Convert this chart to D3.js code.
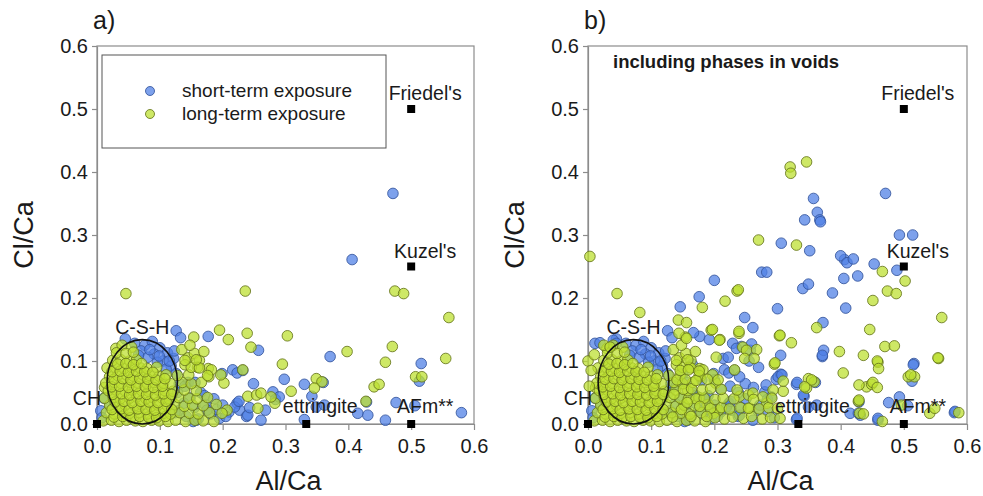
<!DOCTYPE html>
<html>
<head>
<script src="https://d3js.org/d3.v7.min.js"></script>
<style>
  body { margin: 0; background: #fff; }
  text { font-family: "Liberation Sans", Arial, sans-serif; fill: #1a1a1a; }
</style>
</head>
<body>
<svg id="chart" width="983" height="496"></svg>
<script>
// ---- data (Al/Ca, Cl/Ca) ----
var ticks = [0, 0.1, 0.2, 0.3, 0.4, 0.5, 0.6];

var phaseNames = ["CH", "ettringite", "AFm**", "Kuzel's", "Friedel's"];
var phaseAl = [0, 0.333, 0.5, 0.5, 0.5];
var phaseCl = [0, 0, 0, 0.25, 0.5];

// short-term exposure, matrix
var shortA = [
  [0.471,0.366],[0.406,0.261],[0.126,0.148],[0.133,0.137],[0.177,0.139],[0.257,0.117],[0.371,0.107],
  [0.516,0.096],[0.513,0.068],[0.298,0.071],[0.330,0.063],[0.360,0.066],[0.342,0.044],[0.431,0.014],
  [0.415,0.017],[0.459,0.006],[0.476,0.034],[0.506,0.029],[0.580,0.018],[0.330,0.007],[0.249,0.064],
  [0.280,0.051],[0.284,0.039],[0.268,0.022],[0.261,0.006],[0.216,0.086],[0.223,0.081],[0.199,0.080],
  [0.232,0.085],[0.223,0.033],[0.227,0.022],[0.238,0.012],[0.195,0.009],[0.158,0.006],[0.153,0.004],
  [0.349,0.027],[0.362,0.030],[0.290,0.043],[0.429,0.035],[0.145,0.066],[0.240,0.014],
  [0.045,0.135],[0.060,0.128],[0.076,0.125],[0.088,0.131],[0.100,0.121],[0.112,0.113],[0.122,0.104],
  [0.091,0.111],[0.105,0.100],[0.118,0.092],[0.126,0.080],[0.070,0.116],[0.081,0.106],[0.096,0.098],
  [0.110,0.087],[0.131,0.064],[0.128,0.050],[0.130,0.021],[0.142,0.012],[0.155,0.026],[0.161,0.008],
  [0.172,0.031],[0.181,0.016],[0.190,0.023],[0.200,0.030],[0.210,0.019],[0.219,0.027],[0.226,0.036],
  [0.148,0.041],[0.165,0.050],[0.140,0.060],[0.156,0.066],[0.171,0.045],[0.186,0.040],[0.243,0.026],
  [0.006,0.021],[0.011,0.041],[0.021,0.030],[0.008,0.010],[0.175,0.022],[0.205,0.012],[0.138,0.033],
  [0.118,0.040],[0.124,0.018],[0.066,0.109],[0.084,0.118],[0.099,0.108],[0.115,0.100],[0.123,0.116]
];

// long-term exposure, matrix
var longA = [
  [0.046,0.207],[0.236,0.211],[0.474,0.211],[0.488,0.207],[0.560,0.169],[0.195,0.149],[0.209,0.134],
  [0.239,0.144],[0.303,0.140],[0.245,0.122],[0.154,0.138],[0.398,0.115],[0.470,0.123],[0.295,0.095],
  [0.459,0.098],[0.555,0.104],[0.507,0.075],[0.517,0.075],[0.309,0.052],[0.349,0.072],[0.358,0.067],
  [0.346,0.057],[0.441,0.059],[0.449,0.063],[0.428,0.036],[0.240,0.044],[0.254,0.046],[0.283,0.033],
  [0.256,0.025],[0.232,0.086],[0.202,0.065],[0.197,0.078],[0.207,0.022],[0.177,0.088],[0.178,0.075],
  [0.182,0.086],[0.261,0.049],[0.277,0.043],
  [0.135,0.118],[0.145,0.105],[0.155,0.112],[0.163,0.101],[0.140,0.094],[0.160,0.090],[0.170,0.115],[0.148,0.125],
  [0.012,0.058],[0.020,0.075],[0.030,0.120],[0.040,0.125],[0.055,0.122],
  [0.010,0.005],[0.023,0.006],[0.035,0.004],[0.047,0.006],[0.061,0.005],[0.073,0.004],[0.087,0.006],
  [0.099,0.005],[0.113,0.004],[0.125,0.006],[0.141,0.004],[0.156,0.006],[0.169,0.005],[0.186,0.004],
  [0.015,0.018],[0.028,0.016],[0.041,0.018],[0.052,0.017],[0.067,0.018],[0.080,0.016],[0.091,0.018],
  [0.106,0.017],[0.117,0.016],[0.132,0.018],[0.147,0.017],[0.161,0.016],[0.179,0.018],[0.199,0.017],
  [0.020,0.030],[0.034,0.028],[0.045,0.030],[0.060,0.029],[0.071,0.031],[0.086,0.028],[0.097,0.030],
  [0.112,0.029],[0.124,0.031],[0.139,0.028],[0.152,0.030],[0.169,0.029],[0.190,0.031],
  [0.012,0.041],[0.026,0.042],[0.037,0.040],[0.052,0.041],[0.063,0.043],[0.078,0.040],[0.089,0.042],
  [0.104,0.041],[0.115,0.040],[0.130,0.042],[0.146,0.041],[0.159,0.040],[0.176,0.042],
  [0.018,0.053],[0.030,0.054],[0.045,0.052],[0.056,0.054],[0.071,0.053],[0.082,0.052],[0.097,0.054],
  [0.108,0.053],[0.121,0.052],[0.139,0.054],[0.158,0.053],
  [0.014,0.065],[0.028,0.066],[0.039,0.064],[0.054,0.066],[0.065,0.065],[0.080,0.064],[0.091,0.066],
  [0.106,0.065],[0.117,0.064],[0.136,0.066],[0.150,0.064],[0.166,0.066],
  [0.033,0.077],[0.047,0.078],[0.058,0.076],[0.073,0.078],[0.084,0.077],[0.099,0.076],[0.110,0.078],
  [0.128,0.077],[0.146,0.078],[0.176,0.077],
  [0.016,0.089],[0.029,0.090],[0.043,0.088],[0.055,0.090],[0.069,0.089],[0.080,0.088],[0.095,0.090],
  [0.150,0.090],[0.163,0.089],
  [0.025,0.101],[0.038,0.102],[0.052,0.100],[0.063,0.102],
  [0.140,0.101],[0.158,0.102],
  [0.031,0.113],[0.046,0.112],[0.058,0.114],
  // second, denser layer inside the C-S-H ellipse
  [0.027,0.011],[0.041,0.012],[0.054,0.010],[0.068,0.012],[0.082,0.011],[0.095,0.010],[0.109,0.012],
  [0.024,0.023],[0.038,0.024],[0.051,0.022],[0.065,0.024],[0.078,0.023],[0.092,0.022],[0.106,0.024],[0.119,0.023],
  [0.029,0.035],[0.043,0.036],[0.056,0.034],[0.070,0.036],[0.083,0.035],[0.097,0.034],[0.110,0.036],
  [0.025,0.047],[0.039,0.048],[0.052,0.046],[0.066,0.048],[0.079,0.047],[0.093,0.046],[0.106,0.048],[0.119,0.047],
  [0.023,0.059],[0.036,0.060],[0.050,0.058],[0.063,0.060],[0.077,0.059],[0.090,0.058],[0.104,0.060],
  [0.027,0.071],[0.041,0.072],[0.054,0.070],[0.068,0.072],[0.081,0.071],[0.094,0.070],[0.108,0.072],
  [0.024,0.083],[0.037,0.084],[0.050,0.082],[0.063,0.084],[0.076,0.083],[0.089,0.082],
  [0.033,0.095],[0.046,0.096],[0.058,0.094],[0.071,0.096]
];

// extra points in panel b: phases in voids
var shortV = [
  [0.357,0.358],[0.363,0.336],[0.343,0.324],[0.367,0.324],[0.368,0.321],[0.493,0.300],[0.514,0.300],
  [0.306,0.287],[0.351,0.275],[0.400,0.267],[0.410,0.256],[0.420,0.262],[0.453,0.254],[0.489,0.244],
  [0.427,0.235],[0.405,0.231],[0.387,0.208],[0.200,0.228],[0.275,0.241],[0.283,0.241],[0.340,0.215],
  [0.349,0.222],[0.176,0.202],[0.146,0.186],[0.300,0.183],[0.408,0.184],[0.372,0.161],[0.373,0.117],
  [0.371,0.109],[0.305,0.109],[0.305,0.079],[0.331,0.066],[0.515,0.094],[0.493,0.043],[0.581,0.020],
  [0.459,0.009],[0.331,0.009],[0.428,0.017],[0.248,0.169],[0.261,0.153],[0.167,0.145],[0.192,0.134],
  [0.229,0.128],[0.243,0.123],[0.259,0.127],[0.235,0.120],[0.214,0.104],[0.222,0.106],[0.301,0.075],
  [0.307,0.078],[0.282,0.062],[0.341,0.046],[0.011,0.128],[0.019,0.129],[0.040,0.133],[0.045,0.128],
  [0.200,0.070],[0.210,0.055],[0.225,0.060],[0.238,0.050],[0.250,0.040],[0.262,0.058],[0.272,0.030],
  [0.285,0.020],[0.295,0.010],[0.270,0.090],[0.255,0.100],[0.240,0.075],[0.180,0.070],[0.190,0.045],
  [0.165,0.095],[0.150,0.080]
];

var longV = [
  [0.320,0.408],[0.321,0.398],[0.346,0.416],[0.270,0.292],[0.330,0.284],[0.466,0.242],[0.502,0.227],
  [0.238,0.213],[0.217,0.195],[0.181,0.185],[0.082,0.177],[0.003,0.266],[0.451,0.196],[0.362,0.153],
  [0.446,0.150],[0.304,0.141],[0.322,0.129],[0.485,0.124],[0.436,0.109],[0.458,0.100],[0.460,0.088],
  [0.554,0.105],[0.404,0.081],[0.511,0.078],[0.309,0.068],[0.354,0.070],[0.429,0.062],[0.451,0.066],
  [0.458,0.058],[0.429,0.038],[0.496,0.030],[0.541,0.017],[0.549,0.025],[0.587,0.018],[0.466,0.004],
  [0.430,0.017],[0.436,0.016],[0.143,0.165],[0.156,0.161],[0.144,0.144],[0.156,0.136],[0.197,0.150],
  [0.208,0.133],[0.239,0.147],[0.251,0.117],[0.267,0.118],[0.248,0.104],[0.263,0.104],[0.203,0.106],
  [0.296,0.097],[0.293,0.054],[0.343,0.059],
  [0.201,0.010],[0.216,0.008],[0.229,0.011],[0.246,0.009],[0.259,0.012],[0.276,0.008],[0.289,0.010],[0.304,0.009],
  [0.194,0.025],[0.211,0.026],[0.224,0.024],[0.241,0.026],[0.254,0.025],[0.271,0.024],[0.286,0.026],[0.300,0.025],
  [0.171,0.040],[0.184,0.041],[0.201,0.039],[0.214,0.041],[0.231,0.040],[0.262,0.039],[0.291,0.041],
  [0.151,0.055],[0.164,0.056],[0.181,0.054],[0.194,0.056],[0.211,0.055],[0.236,0.054],
  [0.141,0.070],[0.154,0.071],[0.171,0.069],[0.189,0.071],[0.206,0.070],
  [0.146,0.085],[0.159,0.086],[0.176,0.084],
  [0.000,0.100],[0.005,0.085],[0.002,0.060],[0.010,0.110],[0.025,0.125],[0.035,0.122],
  [0.134,0.011],[0.148,0.023],[0.163,0.012],[0.177,0.028],[0.188,0.012],[0.136,0.047],[0.157,0.034]
];

// ---- drawing ----
var svg = d3.select("#chart");
var blue = "#4f80e6", green = "#bde030";
var blueEdge = "#34559c", greenEdge = "#66761c";

var panels = [
  { tag: "a)", x0: 97, x1: 474, short: shortA, long: longA, legend: true },
  { tag: "b)", x0: 588, x1: 967, short: shortA.concat(shortV), long: longA.concat(longV), legend: false }
];

var yTop = 46, yBot = 424;

panels.forEach(function(p) {
  var x = d3.scaleLinear().domain([0, 0.6]).range([p.x0, p.x1]);
  var y = d3.scaleLinear().domain([0, 0.6]).range([yBot, yTop]);
  var g = svg.append("g");

  // frame
  g.append("rect")
    .attr("x", p.x0).attr("y", yTop)
    .attr("width", p.x1 - p.x0).attr("height", yBot - yTop)
    .attr("fill", "none").attr("stroke", "#8c8c8c").attr("stroke-width", 1.2);

  var ax = g.append("g").attr("transform", "translate(0," + yBot + ")")
    .call(d3.axisBottom(x).tickValues(ticks).tickFormat(d3.format(".1f")).tickSize(6).tickPadding(9).tickSizeOuter(0));
  var ay = g.append("g").attr("transform", "translate(" + p.x0 + ",0)")
    .call(d3.axisLeft(y).tickValues(ticks).tickFormat(d3.format(".1f")).tickSize(5).tickPadding(4).tickSizeOuter(0));
  [ax, ay].forEach(function(a) {
    a.selectAll("path, line").attr("stroke", "#8c8c8c").attr("stroke-width", 1.2);
    a.selectAll("text").attr("font-size", 20).attr("fill", "#1a1a1a")
      .style("font-family", "'Liberation Sans', Arial, sans-serif");
  });

  // titles
  g.append("text").attr("x", p.x0 - 4).attr("y", 29).attr("font-size", 25).text(p.tag);
  g.append("text").attr("x", x(0.3) + 3).attr("y", 490).attr("text-anchor", "middle")
    .attr("font-size", 27).text("Al/Ca");
  g.append("text").attr("transform", "translate(" + (p.x0 - 64) + "," + y(0.3) + ") rotate(-90)")
    .attr("text-anchor", "middle").attr("font-size", 27).text("Cl/Ca");

  // points
  function dots(data, col, stroke) {
    g.append("g").selectAll("circle").data(data).enter().append("circle")
      .attr("cx", function(d) { return x(d[0]); })
      .attr("cy", function(d) { return y(d[1]); })
      .attr("r", 5.3)
      .attr("fill", col).attr("fill-opacity", 0.74)
      .attr("stroke", stroke).attr("stroke-opacity", 0.85).attr("stroke-width", 1);
  }
  dots(p.short, blue, blueEdge);
  dots(p.long, green, greenEdge);

  // C-S-H ellipse
  var ex = 0.072, ey = 0.067;
  g.append("ellipse")
    .attr("cx", x(ex)).attr("cy", y(ey))
    .attr("rx", x(0.056) - x(0)).attr("ry", y(0) - y(0.067))
    .attr("fill", "none").attr("stroke", "#111").attr("stroke-width", 1.6);
  g.append("text").attr("x", x(ex)).attr("y", y(ey) - (y(0) - y(0.067)) - 6)
    .attr("text-anchor", "middle").attr("font-size", 19.5).text("C-S-H");

  // reference phases
  g.append("g").selectAll("rect").data(phaseNames).enter().append("rect")
    .attr("x", function(d, i) { return x(phaseAl[i]) - 4; })
    .attr("y", function(d, i) { return y(phaseCl[i]) - 4; })
    .attr("width", 8).attr("height", 8).attr("fill", "#000");

  g.append("g").selectAll("text").data(phaseNames).enter().append("text")
    .attr("x", function(d, i) { return i === 0 ? x(phaseAl[i]) + 4 : x(phaseAl[i]) + 14; })
    .attr("y", function(d, i) { return phaseCl[i] === 0 ? y(phaseCl[i]) - (i === 0 ? 19 : 11) : y(phaseCl[i]) - 9; })
    .attr("text-anchor", function(d, i) { return i === 0 ? "end" : "middle"; })
    .attr("font-size", 19.5)
    .text(function(d) { return d; });

  if (p.legend) {
    var lg = g.append("g");
    lg.append("rect").attr("x", 102).attr("y", 55).attr("width", 284).attr("height", 93)
      .attr("fill", "#fff").attr("stroke", "#555").attr("stroke-width", 1);
    var items = [["short-term exposure", blue, blueEdge], ["long-term exposure", green, greenEdge]];
    items.forEach(function(it, i) {
      lg.append("circle").attr("cx", 150).attr("cy", 91 + i * 23).attr("r", 4.5)
        .attr("fill", it[1]).attr("fill-opacity", 0.74).attr("stroke", it[2]).attr("stroke-opacity", 0.85);
      lg.append("text").attr("x", 182).attr("y", 97 + i * 23).attr("font-size", 19).text(it[0]);
    });
  } else {
    g.append("text").attr("x", p.x0 + 25).attr("y", 68).attr("font-size", 18.5)
      .attr("font-weight", "bold").text("including phases in voids");
  }
});
</script>
</body>
</html>
